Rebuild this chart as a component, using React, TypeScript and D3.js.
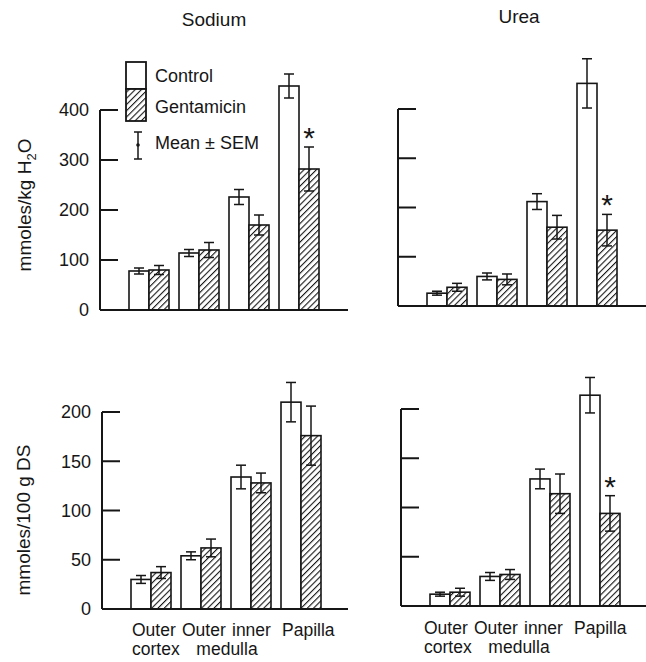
import React from 'react';
import * as d3 from 'd3';

const categories = ['Outer cortex', 'Outer medulla', 'Inner medulla', 'Papilla'];
const labelLine1 = ['Outer', 'Outer', 'inner', 'Papilla'];
const series = ['Control', 'Gentamicin'];

// Sodium, mmoles/kg H2O
const sodiumH2OControl = [78, 114, 226, 448];
const sodiumH2OControlSem = [6, 7, 15, 24];
const sodiumH2OGent = [80, 120, 170, 282];
const sodiumH2OGentSem = [9, 15, 20, 44];

// Urea, mmoles/kg H2O
const ureaH2OControl = [26, 60, 212, 452];
const ureaH2OControlSem = [4, 7, 16, 50];
const ureaH2OGent = [38, 54, 160, 154];
const ureaH2OGentSem = [8, 11, 24, 32];

// Sodium, mmoles/100 g DS
const sodiumDSControl = [30, 54, 134, 210];
const sodiumDSControlSem = [4, 4, 12, 20];
const sodiumDSGent = [37, 62, 128, 176];
const sodiumDSGentSem = [6, 9, 10, 30];

// Urea, mmoles/100 g DS
const ureaDSControl = [12, 30, 129, 214];
const ureaDSControlSem = [2, 4, 10, 18];
const ureaDSGent = [14, 32, 114, 94];
const ureaDSGentSem = [4, 5, 20, 18];

const ticksH2O = [0, 100, 200, 300, 400];
const ticksDS = [0, 50, 100, 150, 200];

const INK = '#161616';
const FONT = '"Liberation Sans", Arial, Helvetica, sans-serif';

interface PanelProps {
  axisX: number;
  baseY: number;
  topY: number;
  max: number;
  ticks: number[];
  showTickLabels: boolean;
  baseEnd: number;
  control: number[];
  controlSem: number[];
  gent: number[];
  gentSem: number[];
  starred: number[];
  showXLabels: boolean;
  labelDx: number;
  labelY: number;
}

function Panel(p: PanelProps) {
  const y = d3.scaleLinear().domain([0, p.max]).range([p.baseY, p.topY]);
  const x0 = d3.scaleBand<string>()
    .domain(categories)
    .range([p.axisX + 29, p.axisX + 29 + 190])
    .paddingInner(0.2);
  const x1 = d3.scaleBand<string>().domain(series).range([0, x0.bandwidth()]);
  const bw = x1.bandwidth();

  const rows = categories.flatMap((c, i) => [
    { cat: c, s: series[0], v: p.control[i], e: p.controlSem[i], i },
    { cat: c, s: series[1], v: p.gent[i], e: p.gentSem[i], i },
  ]);

  return (
    <g>
      {/* bars */}
      {rows.map((d, k) => {
        const bx = (x0(d.cat) ?? 0) + (x1(d.s) ?? 0);
        return (
          <rect key={'b' + k} x={bx} y={y(d.v)} width={bw} height={p.baseY - y(d.v)}
            fill={d.s === 'Control' ? '#fff' : 'url(#hatch)'} stroke={INK} strokeWidth={1.6} />
        );
      })}
      {/* error bars */}
      {rows.map((d, k) => {
        const cx = (x0(d.cat) ?? 0) + (x1(d.s) ?? 0) + bw / 2;
        const y1 = y(d.v + d.e), y2 = y(d.v - d.e);
        return (
          <g key={'e' + k} stroke={INK} strokeWidth={1.5}>
            <line x1={cx} x2={cx} y1={y1} y2={y2} />
            <line x1={cx - 5} x2={cx + 5} y1={y1} y2={y1} />
            <line x1={cx - 5} x2={cx + 5} y1={y2} y2={y2} />
          </g>
        );
      })}
      {/* significance stars */}
      {p.starred.map(i => {
        const cx = (x0(categories[i]) ?? 0) + (x1('Gentamicin') ?? 0) + bw / 2;
        const cy = y(p.gent[i] + p.gentSem[i]) - 16;
        return (
          <text key={'s' + i} x={cx} y={cy + 17} textAnchor="middle" fontSize={30}
            fontFamily={FONT} fill={INK}>*</text>
        );
      })}
      {/* y axis */}
      <line x1={p.axisX} x2={p.axisX} y1={p.baseY} y2={y(p.max)} stroke={INK} strokeWidth={2} />
      {p.ticks.map(t => (
        <g key={'t' + t}>
          <line x1={p.axisX} x2={p.axisX + 18} y1={y(t)} y2={y(t)} stroke={INK} strokeWidth={2} />
          {p.showTickLabels && (
            <text x={p.axisX - 11} y={y(t)} dy="0.36em" textAnchor="end" fontSize={18}
              fontFamily={FONT} fill={INK}>{t}</text>
          )}
        </g>
      ))}
      <line x1={p.axisX} x2={p.baseEnd} y1={p.baseY} y2={p.baseY} stroke={INK} strokeWidth={2} />
      {/* x labels */}
      {p.showXLabels && (
        <g fontSize={17.5} fontFamily={FONT} fill={INK}>
          {labelLine1.map((w, i) => (
            <text key={'l' + i} x={(x0(categories[i]) ?? 0) + p.labelDx} y={p.labelY}>{w}</text>
          ))}
          <text x={(x0(categories[0]) ?? 0) + p.labelDx} y={p.labelY + 19}>cortex</text>
          <text x={((x0(categories[1]) ?? 0) + (x0(categories[2]) ?? 0)) / 2 + x0.bandwidth() / 2 + p.labelDx}
            y={p.labelY + 19} textAnchor="middle">medulla</text>
        </g>
      )}
    </g>
  );
}

export default function App() {
  return (
    <div style={{ position: 'absolute', left: 0, top: 0 }}>
      <svg width={646} height={662} style={{ display: 'block', background: '#fff' }}>
        <defs>
          <pattern id="hatch" patternUnits="userSpaceOnUse" width={4.4} height={4.4}
            patternTransform="rotate(45)">
            <rect width={4.4} height={4.4} fill="#fff" />
            <line x1={0} y1={0} x2={0} y2={4.4} stroke={INK} strokeWidth={2.2} />
          </pattern>
        </defs>

        {/* titles */}
        <text x={214} y={26} textAnchor="middle" fontSize={19} fontFamily={FONT} fill={INK}>Sodium</text>
        <text x={519} y={23} textAnchor="middle" fontSize={19} fontFamily={FONT} fill={INK}>Urea</text>

        {/* y labels */}
        <text transform="translate(31,205) rotate(-90)" textAnchor="middle" fontSize={19}
          fontFamily={FONT} fill={INK}>
          <tspan>mmoles/kg H</tspan>
          <tspan dy={5} fontSize={13}>2</tspan>
          <tspan dy={-5}>O</tspan>
        </text>
        <text transform="translate(30,520) rotate(-90)" textAnchor="middle" fontSize={19}
          fontFamily={FONT} fill={INK}>mmoles/100 g DS</text>

        <Panel axisX={100} baseY={310} topY={110} max={400} ticks={ticksH2O} showTickLabels
          baseEnd={348} control={sodiumH2OControl} controlSem={sodiumH2OControlSem}
          gent={sodiumH2OGent} gentSem={sodiumH2OGentSem} starred={[3]}
          showXLabels={false} labelDx={0} labelY={0} />
        <Panel axisX={398} baseY={306} topY={109} max={400} ticks={ticksH2O} showTickLabels={false}
          baseEnd={646} control={ureaH2OControl} controlSem={ureaH2OControlSem}
          gent={ureaH2OGent} gentSem={ureaH2OGentSem} starred={[3]}
          showXLabels={false} labelDx={0} labelY={0} />
        <Panel axisX={102} baseY={609} topY={412} max={200} ticks={ticksDS} showTickLabels
          baseEnd={348} control={sodiumDSControl} controlSem={sodiumDSControlSem}
          gent={sodiumDSGent} gentSem={sodiumDSGentSem} starred={[]}
          showXLabels labelDx={1} labelY={636} />
        <Panel axisX={401} baseY={606} topY={409} max={200} ticks={ticksDS} showTickLabels={false}
          baseEnd={646} control={ureaDSControl} controlSem={ureaDSControlSem}
          gent={ureaDSGent} gentSem={ureaDSGentSem} starred={[3]}
          showXLabels labelDx={-6} labelY={634} />

        {/* legend */}
        <g fontSize={18} fontFamily={FONT} fill={INK}>
          <rect x={126} y={62} width={20} height={27} fill="#fff" stroke={INK} strokeWidth={1.8} />
          <rect x={126} y={89} width={20} height={32} fill="url(#hatch)" stroke={INK} strokeWidth={1.8} />
          <text x={155} y={82}>{series[0]}</text>
          <text x={155} y={113}>{series[1]}</text>
          <g stroke={INK} strokeWidth={1.5}>
            <line x1={138} x2={138} y1={132} y2={159} />
            <line x1={134} x2={142} y1={132} y2={132} />
            <line x1={134} x2={142} y1={159} y2={159} />
          </g>
          <circle cx={138} cy={145} r={1.8} fill={INK} />
          <text x={155} y={149}>Mean ± SEM</text>
        </g>
      </svg>
    </div>
  );
}
